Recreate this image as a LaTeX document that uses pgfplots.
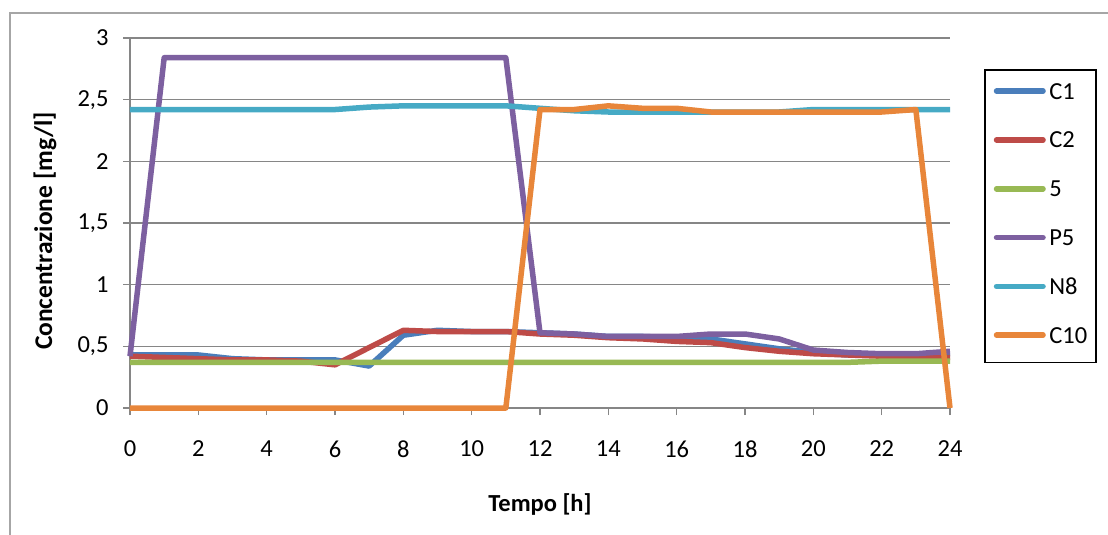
\documentclass[border=0pt]{standalone}
\usepackage{pgfplots}
\pgfplotsset{compat=1.18}
\usepackage{fontspec}
\setmainfont{Carlito}
\definecolor{cA}{HTML}{4A7EBB}
\definecolor{cB}{HTML}{BE4B48}
\definecolor{cC}{HTML}{98B954}
\definecolor{cD}{HTML}{7D60A0}
\definecolor{cE}{HTML}{46AAC5}
\definecolor{cF}{HTML}{E8863A}
\definecolor{gridc}{HTML}{868686}
\begin{document}
\begin{tikzpicture}
\useasboundingbox (0pt,0pt) rectangle (1108pt,-535pt);
\draw[line width=2pt, color=black!35] (9.5pt,-540pt) -- (9.5pt,-12.7pt) -- (1115pt,-12.7pt);
\begin{axis}[
  at={(130pt,-408pt)}, anchor=south west,
  scale only axis, width=820pt, height=370pt,
  xmin=0, xmax=24, ymin=0, ymax=3,
  xtick={0,2,...,24}, ytick={0,0.5,1,1.5,2,2.5,3},
  yticklabels={0,{0,5},1,{1,5},2,{2,5},3},
  /pgf/number format/assume math mode=true,
  axis x line*=bottom, axis y line*=left,
  axis line style={-, gridc, line width=1.5pt},
  tick align=outside, major tick length=7pt,
  tick style={gridc, line width=1.5pt},
  ymajorgrids, grid style={gridc, line width=1.5pt},
  ticklabel style={font=\fontsize{24.5}{28}\selectfont},
  yticklabel style={xshift=-11pt},
  xticklabel style={yshift=-22pt},
  clip=false,
  xlabel={\textbf{Tempo [h]}},
  ylabel={\textbf{Concentrazione [mg/l]}},
  xlabel style={font=\fontsize{24.5}{28}\selectfont, at={(axis description cs:0.5,-0.262)}, anchor=center},
  ylabel style={font=\fontsize{25.5}{28}\selectfont, at={(axis description cs:-0.1037,0.478)}, anchor=center},
  legend cell align=left,
  legend style={at={(axis description cs:1.0415,0.9162)}, anchor=north west,
    draw=black, line width=1.5pt, inner xsep=9pt, inner ysep=0pt, column sep=3.5pt,
    font=\fontsize{24.5}{28}\selectfont,
    nodes={inner sep=0pt, text height=29.4pt, text depth=19.4pt}},
  legend image code/.code={\draw[#1, line width=5.5pt, line cap=round] (2.75pt,3pt) -- (49.25pt,3pt);},
  every axis plot/.append style={line width=5.5pt, line join=round},
]
\addplot[cA] coordinates {(0,0.43)(1,0.43)(2,0.43)(3,0.40)(4,0.39)(5,0.39)(6,0.39)(7,0.34)(8,0.59)(9,0.63)(10,0.62)(11,0.62)(12,0.61)(13,0.60)(14,0.58)(15,0.58)(16,0.57)(17,0.56)(18,0.52)(19,0.48)(20,0.45)(21,0.43)(22,0.43)(23,0.43)(24,0.44)};
\addlegendentry{C1}
\addplot[cB] coordinates {(0,0.42)(1,0.41)(2,0.40)(3,0.39)(4,0.39)(5,0.38)(6,0.35)(7,0.49)(8,0.63)(9,0.62)(10,0.62)(11,0.62)(12,0.60)(13,0.59)(14,0.57)(15,0.56)(16,0.54)(17,0.53)(18,0.49)(19,0.46)(20,0.44)(21,0.43)(22,0.42)(23,0.41)(24,0.41)};
\addlegendentry{C2}
\addplot[cC] coordinates {(0,0.37)(1,0.37)(2,0.37)(3,0.37)(4,0.37)(5,0.37)(6,0.37)(7,0.37)(8,0.37)(9,0.37)(10,0.37)(11,0.37)(12,0.37)(13,0.37)(14,0.37)(15,0.37)(16,0.37)(17,0.37)(18,0.37)(19,0.37)(20,0.37)(21,0.37)(22,0.38)(23,0.38)(24,0.38)};
\addlegendentry{5}
\addplot[cD] coordinates {(0,0.42)(1,2.84)(2,2.84)(3,2.84)(4,2.84)(5,2.84)(6,2.84)(7,2.84)(8,2.84)(9,2.84)(10,2.84)(11,2.84)(12,0.61)(13,0.60)(14,0.58)(15,0.58)(16,0.58)(17,0.60)(18,0.60)(19,0.56)(20,0.47)(21,0.45)(22,0.44)(23,0.44)(24,0.46)};
\addlegendentry{P5}
\addplot[cE] coordinates {(0,2.42)(1,2.42)(2,2.42)(3,2.42)(4,2.42)(5,2.42)(6,2.42)(7,2.44)(8,2.45)(9,2.45)(10,2.45)(11,2.45)(12,2.43)(13,2.41)(14,2.40)(15,2.40)(16,2.40)(17,2.40)(18,2.40)(19,2.40)(20,2.42)(21,2.42)(22,2.42)(23,2.42)(24,2.42)};
\addlegendentry{N8}
\addplot[cF] coordinates {(0,0)(1,0)(2,0)(3,0)(4,0)(5,0)(6,0)(7,0)(8,0)(9,0)(10,0)(11,0)(12,2.42)(13,2.42)(14,2.45)(15,2.43)(16,2.43)(17,2.40)(18,2.40)(19,2.40)(20,2.40)(21,2.40)(22,2.40)(23,2.42)(24,0)};
\addlegendentry{C10}
\end{axis}
\end{tikzpicture}
\end{document}
